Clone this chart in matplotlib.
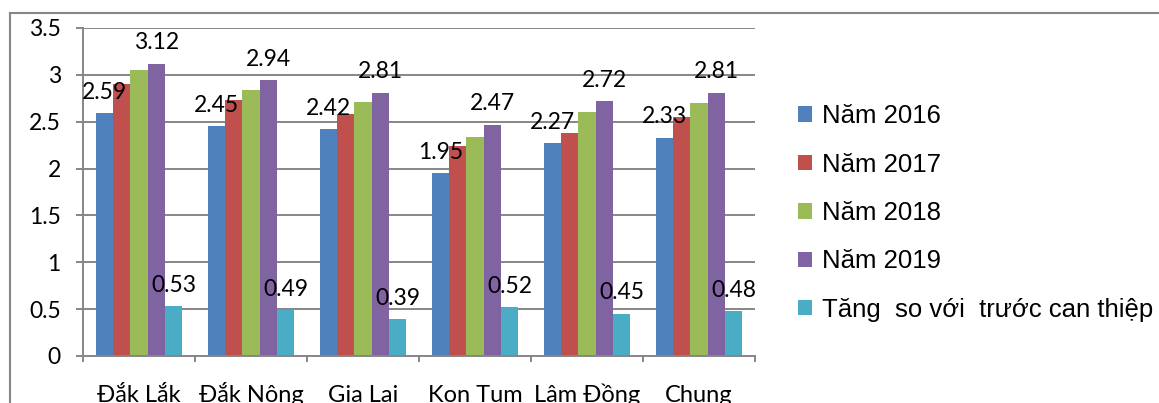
import matplotlib
matplotlib.use("Agg")
import matplotlib.pyplot as plt
from matplotlib.patches import Patch
from matplotlib.lines import Line2D
import numpy as np

# Provinces and yearly values
provinces = ["Đắk Lắk", "Đắk Nông", "Gia Lai", "Kon Tum", "Lâm Đồng", "Chung"]
series_names = ["Năm 2016", "Năm 2017", "Năm 2018", "Năm 2019", "Tăng  so với  trước can thiệp"]
nam_2016 = [2.59, 2.45, 2.42, 1.95, 2.27, 2.33]
nam_2017 = [2.90, 2.73, 2.58, 2.24, 2.38, 2.55]
nam_2018 = [3.05, 2.84, 2.71, 2.34, 2.60, 2.70]
nam_2019 = [3.12, 2.94, 2.81, 2.47, 2.72, 2.81]
tang = [0.53, 0.49, 0.39, 0.52, 0.45, 0.48]
y_ticks = [0, 0.5, 1, 1.5, 2, 2.5, 3, 3.5]
y_tick_labels = ["0", "0.5", "1", "1.5", "2", "2.5", "3", "3.5"]

colors = ["#4F81BD", "#C0504D", "#9BBB59", "#8064A2", "#4BACC6"]
labelled = [True, False, False, True, True]
grid_color = "#868686"
axis_font = ["Lato", "DejaVu Sans"]
legend_font = ["Liberation Sans", "DejaVu Sans"]

W, H = 1159, 403
fig = plt.figure(figsize=(W / 100, H / 100), dpi=100)
ax = fig.add_axes([83 / W, 1 - 356 / H, (755 - 83) / W, (356 - 28) / H])

x = np.arange(len(provinces))
width = 0.154
all_series = [nam_2016, nam_2017, nam_2018, nam_2019, tang]
for k, (vals, c, name, lab) in enumerate(zip(all_series, colors, series_names, labelled)):
    bars = ax.bar(x + (k - 2) * width, vals, width, color=c, label=name, zorder=2)
    if lab:
        ax.bar_label(bars, labels=[f"{v:.2f}" for v in vals], padding=7.5,
                     fontsize=16.5, family=axis_font, color="black")

ax.set_xlim(-0.5, len(provinces) - 0.5)
ax.set_ylim(0, 3.5)
ax.set_yticks(y_ticks)
ax.set_yticklabels(y_tick_labels, family=axis_font, fontsize=16.5)
ax.tick_params(axis="y", length=5, width=1.4, color=grid_color, pad=11)

ax.set_xticks(x)
ax.set_xticklabels(provinces, family=axis_font, fontsize=17, va="baseline")
ax.tick_params(axis="x", which="major", length=0, pad=33)
ax.set_xticks(np.arange(-0.5, len(provinces)), minor=True)
ax.tick_params(axis="x", which="minor", length=4.5, width=1.4, color=grid_color)

ax.yaxis.grid(True, color=grid_color, lw=1.4, zorder=0)
ax.set_axisbelow(True)
for s in ["top", "right"]:
    ax.spines[s].set_visible(False)
for s in ["left", "bottom"]:
    ax.spines[s].set_color(grid_color)
    ax.spines[s].set_linewidth(1.4)

# Outer chart frame
fig.add_artist(Line2D([10 / W, 10 / W], [0, 1 - 13 / H], color=grid_color, lw=1.5))
fig.add_artist(Line2D([10 / W, 1], [1 - 13 / H, 1 - 13 / H], color=grid_color, lw=1.5))

handles = [Patch(facecolor=c, edgecolor="none") for c in colors]
fig.legend(handles, series_names, loc="center left", bbox_to_anchor=(798 / W, 1 - 213 / H),
           frameon=False, prop={"family": legend_font, "size": 18.5},
           handlelength=0.55, handleheight=0.55, handletextpad=0.4,
           labelspacing=0.95, borderpad=0, borderaxespad=0)

fig.savefig("out.png", dpi=100)
